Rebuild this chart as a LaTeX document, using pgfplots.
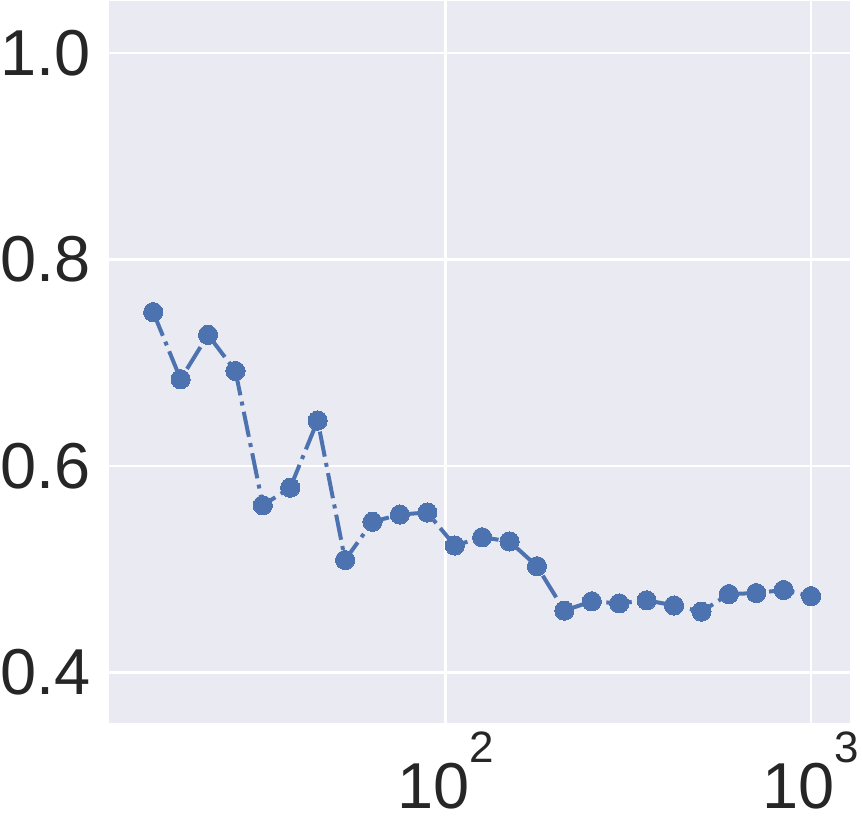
\documentclass[border=0pt]{standalone}
\usepackage{pgfplots}
\pgfplotsset{compat=1.18}
\usepackage{fontspec}
\setmainfont{Liberation Sans}
\definecolor{sbblue}{HTML}{4C72B0}
\definecolor{sbbg}{HTML}{EAEAF2}
\definecolor{sbtext}{HTML}{262626}
\begin{document}
\begin{tikzpicture}
\begin{axis}[
  scale only axis,
  width=371pt, height=361.5pt,
  xmode=log,
  xmin=12.0, xmax=1278,
  ymin=0.351, ymax=1.050,
  axis background/.style={fill=sbbg},
  axis line style={draw=none},
  major tick style={draw=none},
  minor tick style={draw=none},
  grid=major,
  major grid style={white, line width=1.2pt},
  xtick={100,1000},
  xticklabels={{10\smash{\raisebox{0.72em}{\fontsize{22}{26}\selectfont 2}}},{10\smash{\raisebox{0.72em}{\fontsize{22}{26}\selectfont 3}}}},
  ytick={0.4,0.6,0.8,1.0},
  yticklabel style={/pgf/number format/fixed, /pgf/number format/fixed zerofill, /pgf/number format/precision=1, /pgf/number format/assume math mode=true, inner xsep=0pt, xshift=-9.2pt},
  ticklabel style={font=\fontsize{32.5}{39}\selectfont, text=sbtext},
  xticklabel style={inner xsep=1.3pt, inner ysep=0pt, text depth=6.5pt, yshift=-20pt},
]
\addplot[color=sbblue, line width=2pt, dash pattern=on 12.8pt off 3.2pt on 2pt off 3.2pt,
  mark=*, mark size=4.8pt, mark options={solid, fill=sbblue, draw=sbblue, line width=0pt}]
coordinates {
(15.85,0.749) (18.84,0.684) (22.39,0.727) (26.61,0.692) (31.62,0.562)
(37.58,0.579) (44.67,0.644) (53.09,0.509) (63.10,0.546) (74.99,0.553)
(89.13,0.555) (105.93,0.523) (125.89,0.531) (149.62,0.527) (177.83,0.503)
(211.35,0.460) (251.19,0.469) (298.54,0.467) (354.81,0.470) (421.70,0.465)
(501.19,0.459) (595.66,0.476) (707.95,0.477) (841.40,0.480) (1000,0.474)
};
\end{axis}
\end{tikzpicture}
\end{document}
